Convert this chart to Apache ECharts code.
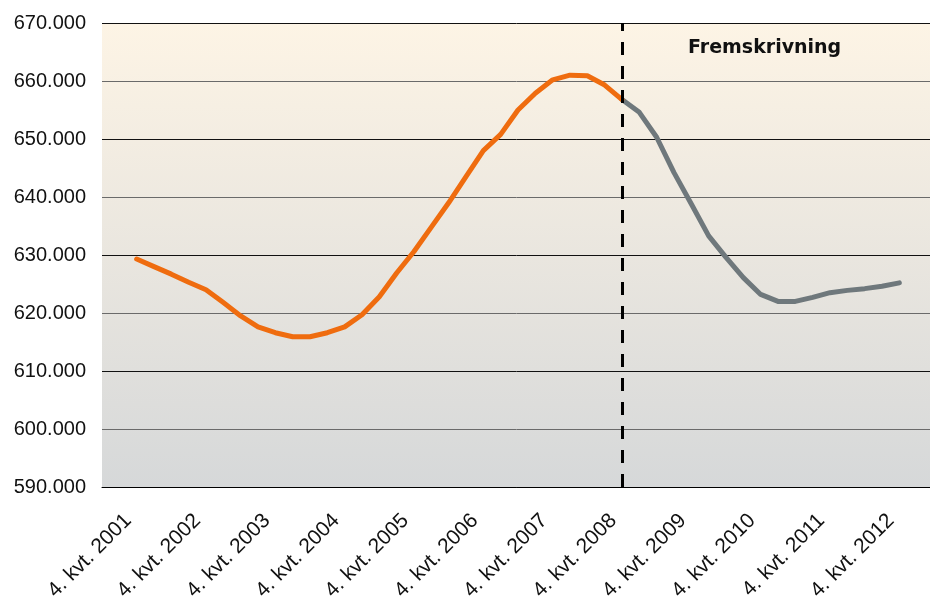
<!DOCTYPE html>
<html>
<head>
<meta charset="utf-8">
<script src="https://cdn.jsdelivr.net/npm/echarts@6/dist/echarts.min.js"></script>
<style>
html,body{margin:0;padding:0;background:#fff;}
#chart{width:930px;height:597px;}
</style>
</head>
<body>
<div id="chart"></div>
<script>
// Quarter categories: 2. kvt. 2001 .. 2. kvt. 2013 (padding quarters have no data)
const years = [2001,2002,2003,2004,2005,2006,2007,2008,2009,2010,2011,2012,2013];
const quarters = [];
years.forEach(y => { for (let q = 1; q <= 4; q++) { if ((y === 2001 && q < 2) || (y === 2013 && q > 2)) continue; quarters.push(q + '. kvt. ' + y); } });

// Values in thousands (4. kvt. 2001 – 4. kvt. 2008)
const historical = [629.3, 628.0, 626.7, 625.3, 624.0, 621.8, 619.5, 617.6, 616.6, 615.9,
  615.9, 616.6, 617.6, 619.7, 622.8, 626.9, 630.6, 634.8, 639.0, 643.5,
  648.0, 650.8, 655.0, 657.9, 660.2, 661.0, 660.9, 659.3, 656.8];
// Fremskrivning (4. kvt. 2008 – 4. kvt. 2012)
const forecast = [656.8, 654.6, 650.3, 644.2, 638.8, 633.3, 629.6, 626.1, 623.2, 622.0,
  622.0, 622.7, 623.5, 623.9, 624.2, 624.6, 625.2];

const yTicks = [590, 600, 610, 620, 630, 640, 650, 660, 670];
const histStart = '4. kvt. 2001';
const forecastStart = '4. kvt. 2008';
const forecastLabel = 'Fremskrivning';

const hIdx = quarters.indexOf(histStart);
const fIdx = quarters.indexOf(forecastStart);
const histData = quarters.map((_, i) => (i >= hIdx && i < hIdx + historical.length) ? historical[i - hIdx] : null);
const fcData = quarters.map((_, i) => (i >= fIdx && i < fIdx + forecast.length) ? forecast[i - fIdx] : null);

const chart = echarts.init(document.getElementById('chart'), null, {renderer: 'canvas'});
chart.setOption({
  animation: false,
  backgroundColor: '#ffffff',
  textStyle: {fontFamily: '"Liberation Sans", Arial, sans-serif'},
  grid: {
    left: 102, top: 23, width: 832, height: 464,
    containLabel: false,
    outerBoundsMode: 'none',
    show: true, borderWidth: 0,
    backgroundColor: new echarts.graphic.LinearGradient(0, 0, 0, 1, [
      {offset: 0, color: '#fdf4e5'},
      {offset: 1, color: '#d6d8d9'}
    ])
  },
  xAxis: {
    type: 'category',
    data: quarters,
    boundaryGap: false,
    axisLine: {show: true, lineStyle: {color: '#000', width: 1}},
    axisTick: {show: false},
    splitLine: {show: false},
    axisLabel: {
      interval: (i, v) => v.indexOf('4. kvt.') === 0,
      rotate: 45,
      margin: 22,
      padding: [0, 12, 0, 0],
      fontSize: 21,
      color: '#111',
      fontFamily: '"Liberation Sans", Arial, sans-serif'
    }
  },
  yAxis: {
    type: 'value',
    min: yTicks[0],
    max: yTicks[yTicks.length - 1],
    interval: 10,
    axisLine: {show: false},
    axisTick: {show: false},
    splitLine: {show: true, lineStyle: {color: ['#111', '#6a6a6a'], width: 1}},
    axisLabel: {
      margin: 16,
      fontSize: 20,
      color: '#111',
      fontFamily: '"Liberation Sans", Arial, sans-serif',
      formatter: v => v.toFixed(3)
    }
  },
  series: [
    {
      type: 'line',
      data: histData,
      showSymbol: false,
      symbol: 'none',
      connectNulls: false,
      lineStyle: {color: '#ef6c0f', width: 5, cap: 'round', join: 'round'},
      z: 3,
      markLine: {
        silent: true,
        symbol: ['none', 'none'],
        label: {show: false},
        lineStyle: {color: '#000', width: 3, type: [13, 11]},
        data: [{xAxis: forecastStart}]
      }
    },
    {
      type: 'line',
      data: fcData,
      showSymbol: false,
      symbol: 'none',
      lineStyle: {color: '#6f787c', width: 5, cap: 'round', join: 'round'},
      z: 2
    }
  ],
  graphic: [
    {
      type: 'text',
      left: 688, top: 39,
      style: {
        text: forecastLabel,
        font: 'bold 19px "DejaVu Sans", sans-serif',
        fill: '#111'
      }
    }
  ]
});
</script>
</body>
</html>
